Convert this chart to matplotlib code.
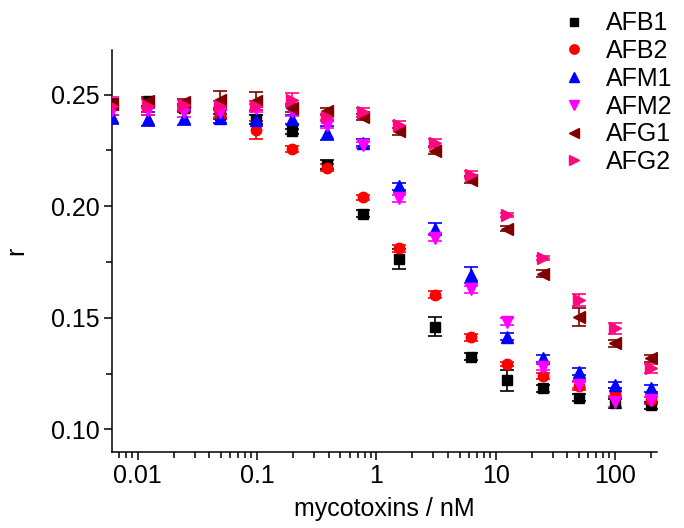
import numpy as np
import matplotlib
matplotlib.use("Agg")
import matplotlib.pyplot as plt
from matplotlib.ticker import FixedLocator, MultipleLocator, LogLocator, NullFormatter, FuncFormatter

plt.rcParams['font.family'] = ['Liberation Sans', 'DejaVu Sans']

# concentrations (nM): two-fold dilution series from 200 nM
conc = [0.0061, 0.0122, 0.0244, 0.0488, 0.0977, 0.195, 0.39, 0.78,
        1.5625, 3.125, 6.25, 12.5, 25, 50, 100, 200]

afb1 = [0.246, 0.247, 0.244, 0.241, 0.239, 0.2335, 0.2186, 0.1966,
        0.1764, 0.146, 0.1326, 0.1221, 0.1184, 0.1142, 0.1117, 0.1108]
afb1_err = [0.002, 0.002, 0.002, 0.002, 0.002, 0.001, 0.002, 0.0015,
            0.0045, 0.0043, 0.0015, 0.0047, 0.0015, 0.0015, 0.002, 0.0015]

afb2 = [0.245, 0.246, 0.244, 0.241, 0.234, 0.2256, 0.2172, 0.204,
        0.1812, 0.1603, 0.1413, 0.1293, 0.1239, 0.1196, 0.1164, 0.113]
afb2_err = [0.002, 0.002, 0.002, 0.002, 0.004, 0.0015, 0.0015, 0.001,
            0.0015, 0.0015, 0.0015, 0.001, 0.0015, 0.002, 0.002, 0.0015]

afm1 = [0.240, 0.239, 0.2395, 0.2395, 0.2388, 0.239, 0.2328, 0.2285,
        0.2089, 0.190, 0.1692, 0.1416, 0.1318, 0.1258, 0.1199, 0.1184]
afm1_err = [0.003, 0.003, 0.003, 0.002, 0.002, 0.002, 0.003, 0.0015,
            0.0015, 0.0025, 0.0035, 0.0015, 0.0015, 0.0015, 0.0015, 0.0015]

afm2 = [0.243, 0.243, 0.242, 0.242, 0.244, 0.2425, 0.2365, 0.2275,
        0.2036, 0.1857, 0.1628, 0.1483, 0.128, 0.1199, 0.1124, 0.113]
afm2_err = [0.002, 0.002, 0.002, 0.002, 0.002, 0.002, 0.0015, 0.0015,
            0.0015, 0.0015, 0.0015, 0.0015, 0.0015, 0.0015, 0.0025, 0.0015]

afg1 = [0.246, 0.247, 0.2466, 0.2478, 0.247, 0.244, 0.2425, 0.240,
        0.2335, 0.2249, 0.2119, 0.190, 0.1697, 0.1505, 0.1386, 0.1318]
afg1_err = [0.002, 0.002, 0.0015, 0.004, 0.004, 0.002, 0.0015, 0.0015,
            0.0015, 0.0015, 0.0015, 0.001, 0.0015, 0.004, 0.0015, 0.0015]

afg2 = [0.245, 0.245, 0.2455, 0.245, 0.245, 0.2478, 0.240, 0.242,
        0.2365, 0.2285, 0.2141, 0.196, 0.1767, 0.158, 0.1453, 0.1273]
afg2_err = [0.004, 0.004, 0.002, 0.002, 0.002, 0.003, 0.0015, 0.002,
            0.0015, 0.0015, 0.0015, 0.001, 0.001, 0.0025, 0.0025, 0.002]

series = [
    ("AFB1", afb1, afb1_err, "black", "s", 6.5),
    ("AFB2", afb2, afb2_err, "red", "o", 7.5),
    ("AFM1", afm1, afm1_err, "blue", "^", 8.5),
    ("AFM2", afm2, afm2_err, "#FF00FF", "v", 8.5),
    ("AFG1", afg1, afg1_err, "#800000", "<", 8.5),
    ("AFG2", afg2, afg2_err, "#FF0880", ">", 8.5),
]

fig = plt.figure(figsize=(6.84, 5.28), dpi=100)
ax = fig.add_axes([0.1637, 0.1445, 0.7968, 0.7608])

handles = []
for name, y, err, col, mk, ms in series:
    ax.errorbar(conc, y, yerr=err, fmt=mk, color=col, ms=ms, mec=col,
                ecolor=col, elinewidth=1.2, capsize=5, capthick=1.2,
                zorder=3)
    handles.append(ax.plot([], [], mk, color=col, ms=ms * 0.9, label=name)[0])

ax.set_xscale("log")
ax.set_xlim(0.0061, 225)
ax.set_ylim(0.09, 0.27)

ax.spines["top"].set_visible(False)
ax.spines["right"].set_visible(False)
for s in ("left", "bottom"):
    ax.spines[s].set_linewidth(1.1)

ax.xaxis.set_major_locator(FixedLocator([0.01, 0.1, 1, 10, 100]))
ax.xaxis.set_major_formatter(FuncFormatter(lambda v, p: "%g" % v))
ax.xaxis.set_minor_locator(LogLocator(base=10, subs=np.arange(2, 10)))
ax.xaxis.set_minor_formatter(NullFormatter())
ax.yaxis.set_major_locator(FixedLocator([0.10, 0.15, 0.20, 0.25]))
ax.yaxis.set_major_formatter(FuncFormatter(lambda v, p: "%.2f" % v))
ax.yaxis.set_minor_locator(MultipleLocator(0.025))

ax.tick_params(which="major", direction="out", length=6, width=1.1, labelsize=18, pad=3)
ax.tick_params(which="minor", direction="out", length=4, width=1.1)

ax.set_xlabel("mycotoxins / nM", fontsize=18, labelpad=6)
ax.set_ylabel("r", fontsize=18, labelpad=16)

fig.legend(handles=handles, loc="upper right", bbox_to_anchor=(1.0, 1.0),
           frameon=False, fontsize=18, handlelength=0.6, handletextpad=1.0,
           labelspacing=0.15, borderaxespad=0.05)

fig.savefig("out.png", dpi=100)
